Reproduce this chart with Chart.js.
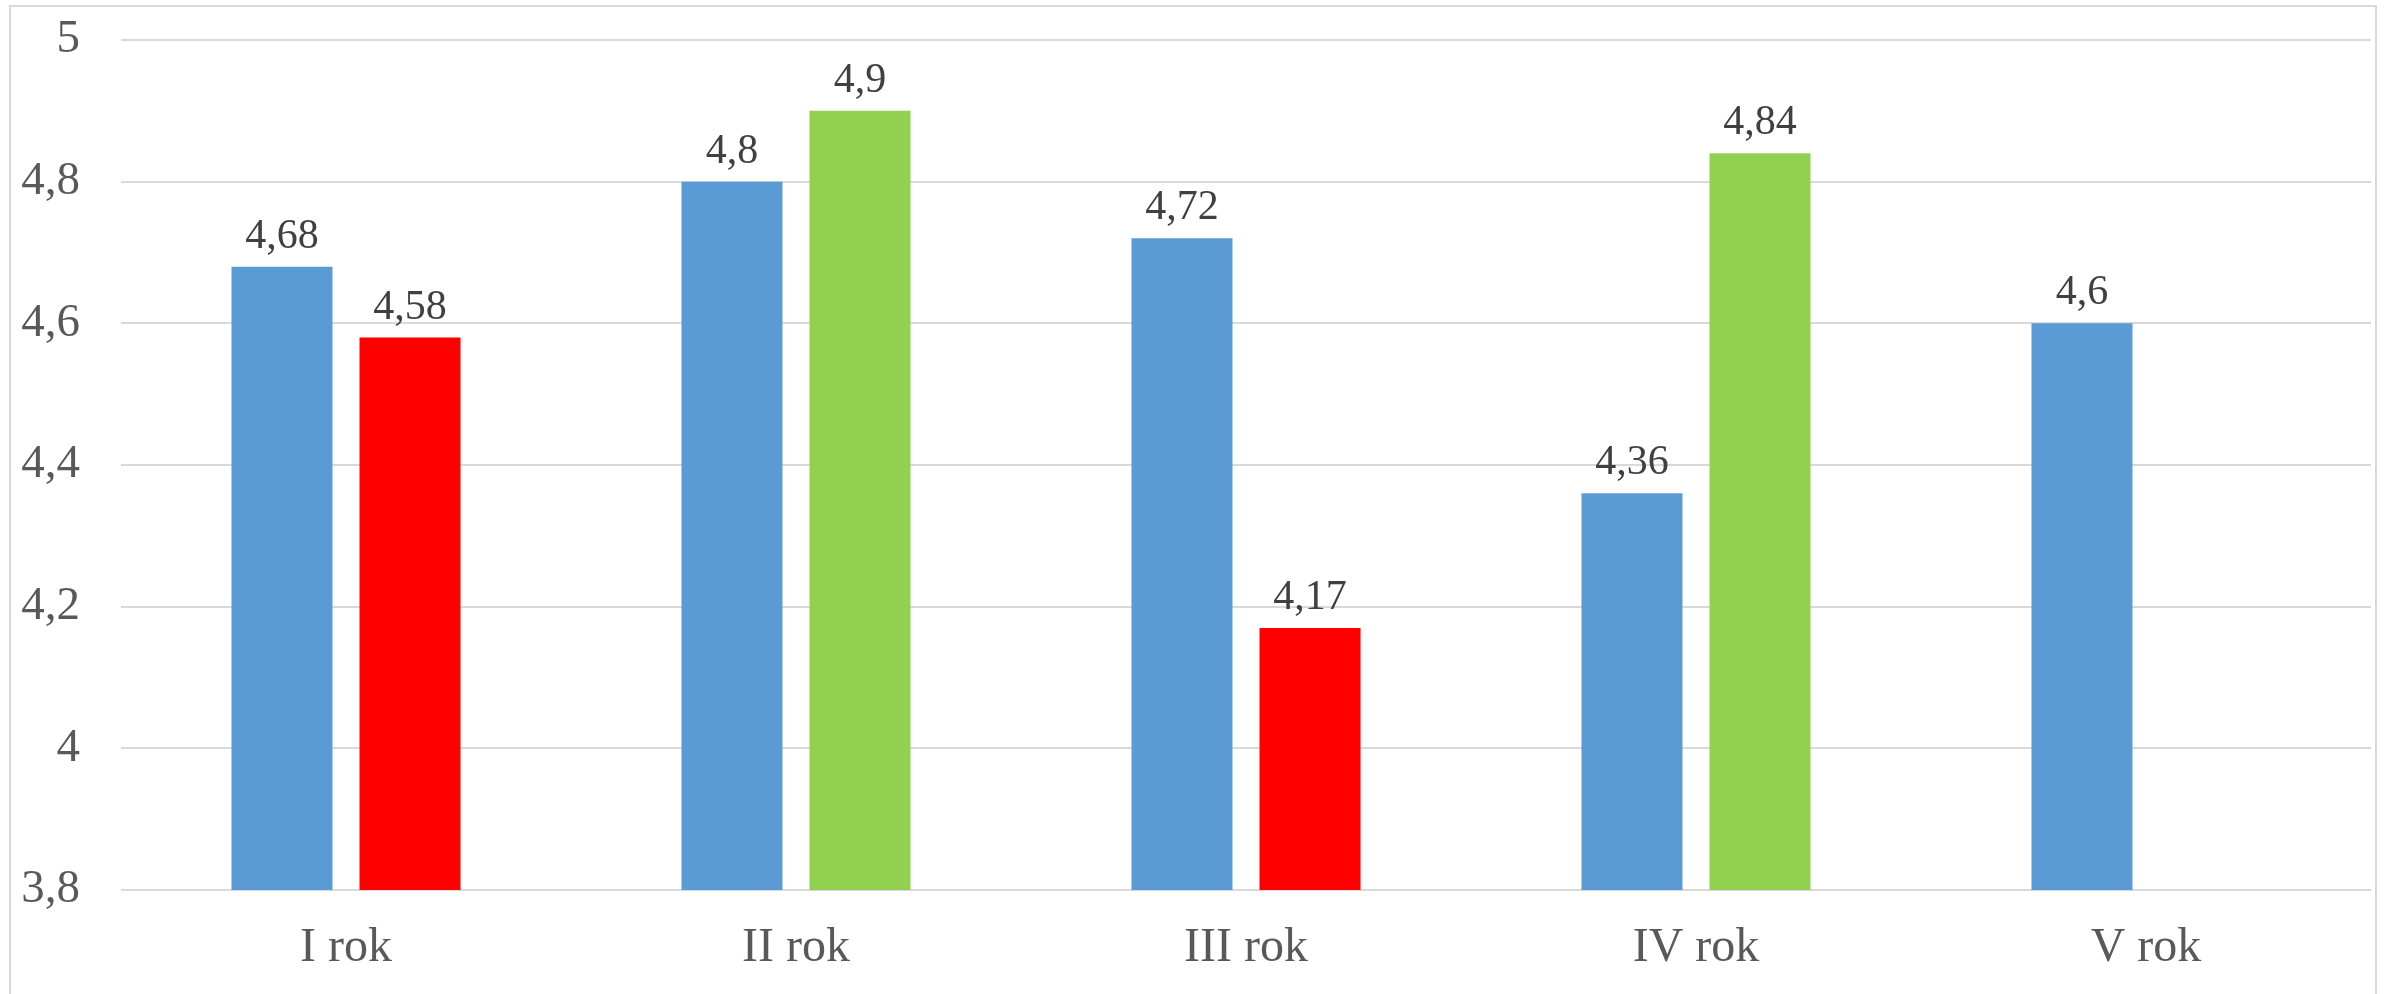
<!DOCTYPE html>
<html>
<head>
<meta charset="utf-8">
<script src="https://cdn.jsdelivr.net/npm/chart.js@4/dist/chart.umd.min.js"></script>
<style>
  html, body { margin: 0; padding: 0; background: #ffffff; }
  #wrap { position: absolute; left: 0; top: 0; width: 2389px; height: 994px; }
</style>
</head>
<body>
<div id="wrap"><canvas id="c" width="2389" height="994"></canvas></div>
<script>
const categories = ['I rok', 'II rok', 'III rok', 'IV rok', 'V rok'];
const seriesA = [4.68, 4.8, 4.72, 4.36, 4.6];
const seriesB = [4.58, 4.9, 4.17, 4.84, null];
const colorsA = ['#5B9BD5', '#5B9BD5', '#5B9BD5', '#5B9BD5', '#5B9BD5'];
const colorsB = ['#FF0000', '#92D050', '#FF0000', '#92D050', '#92D050'];
const yMin = 3.8, yMax = 5, yStep = 0.2;

const textColor = '#595959';
const fontFamily = "'Liberation Serif', 'Times New Roman', serif";

const frame = {
  id: 'frame',
  beforeDraw(chart) {
    const ctx = chart.ctx;
    ctx.save();
    ctx.fillStyle = '#ffffff';
    ctx.fillRect(0, 0, chart.width, chart.height);
    ctx.strokeStyle = '#D9D9D9';
    ctx.lineWidth = 2;
    ctx.strokeRect(10, 6, 2366, 1010);
    ctx.restore();
  }
};

const valueLabels = {
  id: 'valueLabels',
  afterDatasetsDraw(chart) {
    const ctx = chart.ctx;
    ctx.save();
    ctx.fillStyle = '#404040';
    ctx.font = '42px ' + fontFamily;
    ctx.textAlign = 'center';
    ctx.textBaseline = 'alphabetic';
    chart.data.datasets.forEach((ds, di) => {
      const meta = chart.getDatasetMeta(di);
      meta.data.forEach((bar, i) => {
        const v = ds.data[i];
        if (v === null || v === undefined) return;
        const txt = String(v).replace('.', ',');
        ctx.fillText(txt, bar.x, bar.y - 19);
      });
    });
    ctx.restore();
  }
};

new Chart(document.getElementById('c'), {
  type: 'bar',
  data: {
    labels: categories,
    datasets: [
      { data: seriesA, backgroundColor: colorsA, borderWidth: 0 },
      { data: seriesB, backgroundColor: colorsB, borderWidth: 0 }
    ]
  },
  options: {
    responsive: false,
    animation: false,
    devicePixelRatio: 1,
    categoryPercentage: 0.569,
    barPercentage: 0.789,
    layout: { padding: { left: 0, right: 18, top: 40, bottom: 0 } },
    plugins: { legend: { display: false }, tooltip: { enabled: false } },
    scales: {
      x: {
        grid: { display: false, drawTicks: false },
        border: { display: false },
        ticks: {
          color: textColor,
          font: { family: fontFamily, size: 48 },
          padding: 30,
          maxRotation: 0
        },
        afterFit(scale) { scale.height = 104; }
      },
      y: {
        min: yMin,
        max: yMax,
        grid: { color: '#D9D9D9', lineWidth: 2, drawTicks: false },
        border: { display: false },
        ticks: {
          stepSize: yStep,
          color: textColor,
          font: { family: fontFamily, size: 47 },
          padding: 41,
          callback: (v) => String(Math.round(v * 10) / 10).replace('.', ',')
        },
        afterFit(scale) {
          scale.width = 121;
          scale.paddingTop = 0;
          scale.paddingBottom = 0;
        }
      }
    }
  },
  plugins: [frame, valueLabels]
});
</script>
</body>
</html>
